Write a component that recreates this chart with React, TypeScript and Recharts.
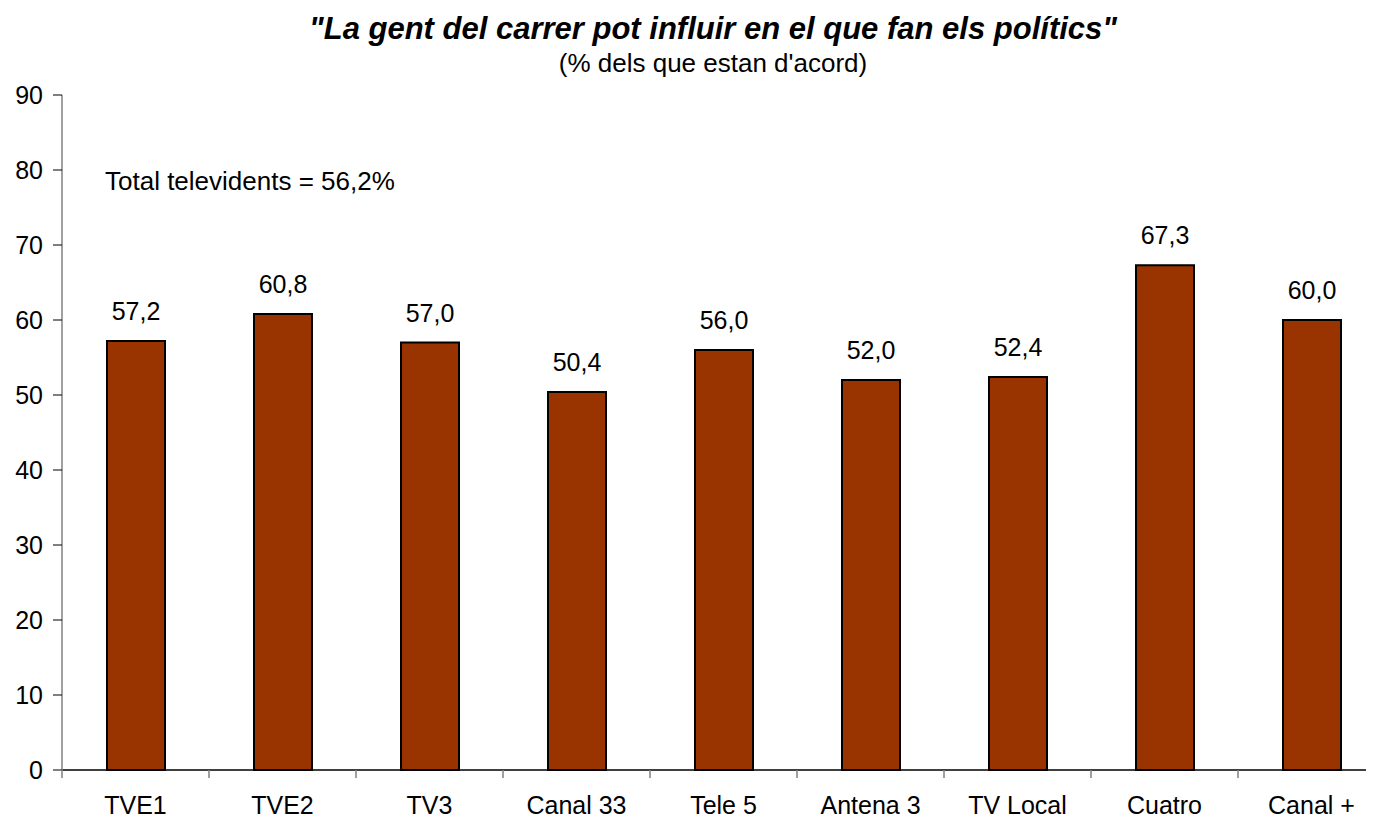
import React from "react";
import { BarChart, Bar, XAxis, YAxis, LabelList } from "recharts";

const categories = ["TVE1", "TVE2", "TV3", "Canal 33", "Tele 5", "Antena 3", "TV Local", "Cuatro", "Canal +"];
const values = [57.2, 60.8, 57.0, 50.4, 56.0, 52.0, 52.4, 67.3, 60.0];
const yTicks = [0, 10, 20, 30, 40, 50, 60, 70, 80, 90];

const data = categories.map((c, i) => ({ name: c, value: values[i] }));

const FONT = "'Liberation Sans', Arial, sans-serif";
const AXIS_Y = 762;

function CatTick(props: any) {
  const { x, y, payload } = props;
  const off = payload && typeof payload.offset === "number" && payload.offset > 0 ? payload.offset : 73.5;
  const bx = x - off;
  return (
    <g>
      <line x1={bx} x2={bx} y1={AXIS_Y} y2={AXIS_Y + 8} stroke="#808080" strokeWidth={1.5} />
      <text x={x} y={y} dy="0.71em" textAnchor="middle" fill="#000" fontSize={25} fontFamily={FONT}>
        {payload.value}
      </text>
    </g>
  );
}

export default function App() {
  return (
    <div style={{ position: "relative", width: 1366, height: 813, overflow: "hidden", fontFamily: FONT }}>
      <BarChart
        width={1390}
        height={813}
        data={data}
        margin={{ top: 87, right: 13, bottom: 11, left: 0 }}
        barSize={58}
      >
        <XAxis
          dataKey="name"
          xAxisId="cat"
          tickLine={false}
          axisLine={{ stroke: "#000", strokeWidth: 1.5 }}
          tick={<CatTick />}
          tickMargin={20}
          height={40}
          interval={0}
        />
        <YAxis
          domain={[0, 90]}
          ticks={yTicks}
          width={54}
          tickSize={9}
          tickMargin={10}
          interval={0}
          axisLine={{ stroke: "#808080", strokeWidth: 1.5 }}
          tickLine={{ stroke: "#000", strokeWidth: 1 }}
          tick={{ fill: "#000", fontSize: 25, fontFamily: FONT }}
        />
        <Bar dataKey="value" xAxisId="cat" fill="#993300" stroke="#000" strokeWidth={2} isAnimationActive={false}>
          <LabelList
            dataKey="value"
            position="top"
            offset={21}
            formatter={(v: any) => Number(v).toFixed(1).replace(".", ",")}
            style={{ fill: "#000", fontSize: 25, fontFamily: FONT }}
          />
        </Bar>
      </BarChart>
      <div
        style={{
          position: "absolute",
          left: 0,
          width: 1410,
          top: 3,
          textAlign: "center",
          fontSize: 31,
          fontWeight: "bold",
          fontStyle: "italic",
          color: "#000",
          whiteSpace: "nowrap",
        }}
      >
        "La gent del carrer pot influir en el que fan els polítics"
      </div>
      <div
        style={{
          position: "absolute",
          left: 0,
          width: 1410,
          top: 40,
          textAlign: "center",
          fontSize: 26,
          color: "#000",
          whiteSpace: "nowrap",
        }}
      >
        (% dels que estan d'acord)
      </div>
      <div style={{ position: "absolute", left: 97, top: 158, fontSize: 26, color: "#000", whiteSpace: "nowrap" }}>
        Total televidents = 56,2%
      </div>
    </div>
  );
}
